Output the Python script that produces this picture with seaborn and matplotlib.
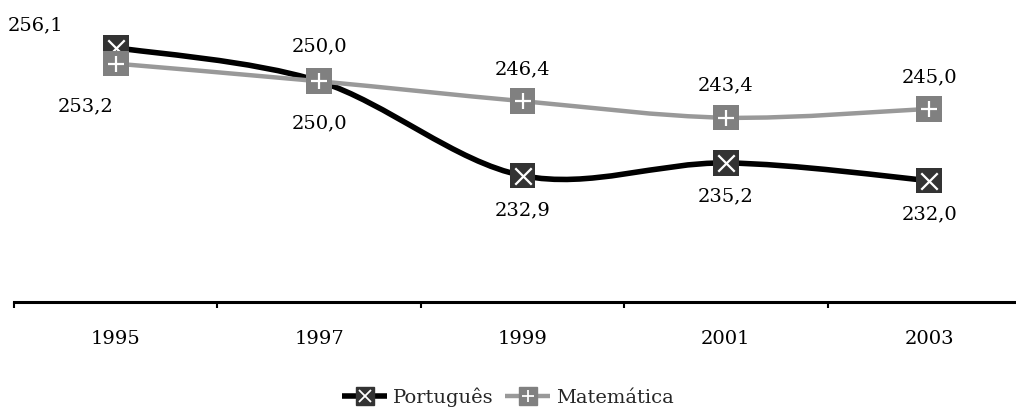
import matplotlib
matplotlib.use("Agg")
import matplotlib.pyplot as plt
from matplotlib.path import Path
from matplotlib.patches import PathPatch
from matplotlib.lines import Line2D
from matplotlib.legend_handler import HandlerTuple
import numpy as np
import pandas as pd
import seaborn as sns

# data
years = ["1995", "1997", "1999", "2001", "2003"]
portugues = [256.1, 250.0, 232.9, 235.2, 232.0]
matematica = [253.2, 250.0, 246.4, 243.4, 245.0]
series_names = ["Português", "Matemática"]

sns.set_style("white")
plt.rcParams["font.family"] = ["DejaVu Serif"]
plt.rcParams["font.size"] = 14

df = pd.DataFrame({
    "ano": years * 2,
    "x": list(range(len(years))) * 2,
    "valor": portugues + matematica,
    "serie": [series_names[0]] * len(years) + [series_names[1]] * len(years),
})

styles = {
    "Português": dict(line="black", lw=4.0, face="#333333", sym="x"),
    "Matemática": dict(line="#999999", lw=3.2, face="#808080", sym="+"),
}
# label offsets in points (layout only)
offsets = {
    "Português": [(-58, 16), (0, 25), (0, -25), (0, -24), (0, -24)],
    "Matemática": [(-22, -31), (0, -30), (0, 23), (0, 23), (0, 23)],
}


def smooth_path(xs, ys):
    # Catmull-Rom style bezier, like a spreadsheet "smoothed line"
    pts = np.column_stack([xs, ys]).astype(float)
    n = len(pts)
    verts = [pts[0]]
    codes = [Path.MOVETO]
    for i in range(n - 1):
        p0 = pts[i - 1] if i > 0 else pts[i]
        p1 = pts[i]
        p2 = pts[i + 1]
        p3 = pts[i + 2] if i + 2 < n else pts[i + 1]
        c1 = p1 + (p2 - p0) / 6.0
        c2 = p2 - (p3 - p1) / 6.0
        verts += [c1, c2, p2]
        codes += [Path.CURVE4] * 3
    return Path(verts, codes)


fig = plt.figure(figsize=(10.16, 4.08), dpi=100)
ax = fig.add_axes([14 / 1016, 106 / 408, 1017 / 1016, 303.5 / 408])

for name in series_names:
    st = styles[name]
    sub = df[df["serie"] == name]
    ax.add_patch(PathPatch(smooth_path(sub["x"], sub["valor"]), fill=False,
                           edgecolor=st["line"], lw=st["lw"], capstyle="butt", zorder=2))

for k, name in enumerate(series_names):
    st = styles[name]
    sub = df[df["serie"] == name]
    sns.scatterplot(data=sub, x="x", y="valor", marker="s", s=340, color=st["face"],
                    edgecolor="none", linewidth=0, ax=ax, zorder=3 + 2 * k, legend=False)
    ax.scatter(sub["x"], sub["valor"], marker=st["sym"], s=140, color="white",
               linewidths=1.6, zorder=4 + 2 * k)
    for (xi, yi), off in zip(zip(sub["x"], sub["valor"]), offsets[name]):
        ax.annotate(f"{yi:.1f}".replace(".", ","), (xi, yi), xytext=off,
                    textcoords="offset points", ha="center", va="center",
                    fontsize=14, color="black")

ax.set_xlim(-0.5, len(years) - 0.5)
ax.set_ylim(210, 265)
ax.set_xticks(range(len(years)))
ax.set_xticklabels(years, fontsize=14, color="black")
ax.set_xticks(np.arange(-0.5, len(years), 1.0), minor=True)
ax.tick_params(axis="x", which="major", bottom=True, length=0, pad=20)
ax.tick_params(axis="x", which="minor", bottom=True, length=4.5, width=1.5,
               direction="out", color="black")
ax.set_yticks([])
ax.set_xlabel("")
ax.set_ylabel("")
for side in ["top", "right", "left"]:
    ax.spines[side].set_visible(False)
ax.spines["bottom"].set_linewidth(2.2)
ax.spines["bottom"].set_color("black")

handles = []
for name in series_names:
    st = styles[name]
    h1 = Line2D([], [], color=st["line"], lw=st["lw"], marker="s", markersize=13,
                markerfacecolor=st["face"], markeredgecolor=st["face"],
                solid_capstyle="butt")
    h2 = Line2D([], [], color="none", lw=0, marker=st["sym"], markersize=9,
                markeredgecolor="white", markeredgewidth=1.3)
    handles.append((h1, h2))
fig.legend(handles, series_names, handler_map={tuple: HandlerTuple(ndivide=1, pad=0)},
           loc="center", bbox_to_anchor=(0.5, 11 / 408), ncol=2, frameon=False,
           handlelength=2.3, handletextpad=0.3, columnspacing=0.6, fontsize=14)

fig.savefig("out.png", dpi=100)
